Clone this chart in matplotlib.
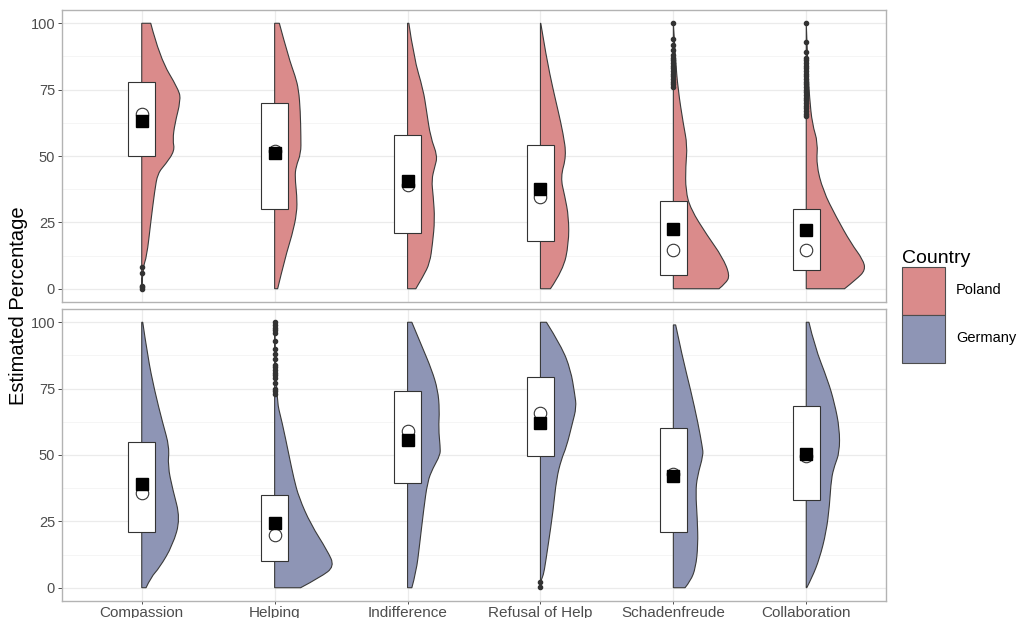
import matplotlib
matplotlib.use("Agg")
import matplotlib.pyplot as plt
from matplotlib.patches import PathPatch, Rectangle, Patch
from matplotlib.path import Path

plt.rcParams['font.family'] = ['Liberation Sans', 'DejaVu Sans']

categories = ["Compassion", "Helping", "Indifference", "Refusal of Help", "Schadenfreude", "Collaboration"]
countries = ["Poland", "Germany"]

# box stats
poland_q1 = [50, 30, 21, 18, 5, 7]
poland_q3 = [78, 70, 58, 54, 33, 30]
poland_mean = [63, 51.3, 40.6, 37.5, 22.4, 22]
poland_median = [66, 52, 39, 34.5, 14.7, 14.7]

germany_q1 = [21, 10, 39.5, 49.5, 21, 33]
germany_q3 = [55, 35, 74, 79.5, 60, 68.5]
germany_mean = [39, 24.5, 55.8, 62, 42, 50.5]
germany_median = [35.5, 19.8, 59, 66, 43, 49.5]

# half violin outlines: y levels and relative density at each level
poland_vy = [
    [0, 8, 12, 25, 37, 43.5, 47, 52, 56, 62, 71, 75, 87, 100],
    [0, 12, 20, 28.5, 35, 42, 46, 51, 57, 67, 75, 80, 87, 100],
    [0, 4.7, 9.7, 17, 26, 35, 41, 46, 50, 57, 67, 75, 87, 100],
    [0, 7, 17, 27, 35, 42, 50, 58.5, 67, 75, 87, 100],
    [0, 2, 5, 12, 20, 30, 37, 46, 54, 62, 75, 87, 100],
    [0, 3.5, 7, 11, 17, 27, 37, 47, 55, 62, 72, 82, 100],
]
poland_vd = [
    [0, 1, 5, 9, 13, 16, 24, 33, 31, 33, 39, 37, 18, 9],
    [3, 10.7, 17.3, 22.3, 22.3, 20.3, 21.3, 26.3, 26.3, 25.7, 24, 20.7, 14, 4.7],
    [8.3, 15.7, 22.3, 25, 27.3, 25.7, 24, 27.3, 30, 23, 19, 15.7, 6.3, 1.3],
    [10, 22.7, 28.3, 28.3, 24.3, 20, 26, 22.7, 17.7, 12.7, 6, 0.3],
    [45.7, 52.3, 56.7, 49, 34, 17.3, 12.3, 12.3, 14, 10, 4.7, 2, 0],
    [38.3, 50, 59.3, 56.7, 45, 30, 16.7, 10, 11.7, 6, 3.3, 1.7, 0],
]
germany_vy = [
    [0, 4, 7.5, 16, 26, 37, 46, 53, 62, 74.5, 87, 100],
    [0, 4, 8, 14, 24, 34, 41, 50, 62, 72, 100],
    [0, 6, 16, 29, 40, 45, 50, 53, 60, 67, 74.5, 82, 91, 100],
    [2, 4, 6, 16, 29, 41, 48.5, 53, 62, 68, 73, 82, 91, 100],
    [0, 2.6, 7.5, 16, 26, 36, 42, 50, 53, 62, 74.5, 87, 99],
    [0, 4, 11, 21, 31, 41, 46, 51, 60, 69.5, 78, 91, 100],
]
germany_vd = [
    [4.3, 9.3, 17.7, 31, 38.7, 31, 26, 27.7, 21, 12.7, 6, 1],
    [26, 46, 60, 52.7, 36, 24.3, 19.3, 14.3, 7.7, 1, 0],
    [4.3, 8.7, 12, 16, 20, 25.3, 32.7, 32.7, 31, 32, 30.3, 24.3, 14.3, 4.3],
    [0, 2, 3.7, 7.7, 12.7, 16, 21, 26, 32, 36, 34.3, 30.3, 21, 6],
    [11.7, 17.3, 22.3, 24.7, 24, 22.3, 24, 30, 29, 24.7, 17.3, 9, 2.3],
    [0.5, 6, 13.3, 20, 23.3, 25, 28.3, 33.3, 33.3, 28.3, 21.7, 8.3, 2.7],
]

# outlier points
poland_out = [
    [0, 0.5, 1, 6, 8],
    [],
    [],
    [],
    [100, 94, 92, 90, 88, 87, 86, 85, 84, 83, 82, 81, 80, 79, 78, 77, 76],
    [100, 93, 89, 87, 86, 85, 84, 83, 82, 81, 80, 79, 78, 77, 76, 75, 74, 73, 72,
     71, 70, 69, 68, 67, 66, 65],
]
germany_out = [
    [],
    [100, 99, 98, 97, 96, 93, 90, 88, 86, 84, 83, 82, 81, 80, 79, 77, 75, 74, 73],
    [],
    [0.4, 2],
    [],
    [],
]

fills = {"Poland": "#da8b8b", "Germany": "#8e95b5"}
dens_scale = 1 / 133.0   # density units -> category units
box_w = 0.2


def half_violin(cx, ys, ds):
    # outline drawn as a quadratic bezier through the read points
    pts = [(cx + d * dens_scale, y) for y, d in zip(ys, ds)]
    verts = [(cx, ys[0]), pts[0]]
    codes = [Path.MOVETO, Path.LINETO]
    for k in range(1, len(pts) - 1):
        mid = ((pts[k][0] + pts[k + 1][0]) / 2, (pts[k][1] + pts[k + 1][1]) / 2)
        if k == len(pts) - 2:
            mid = pts[-1]
        verts += [pts[k], mid]
        codes += [Path.CURVE3, Path.CURVE3]
    verts += [(cx, ys[-1]), (cx, ys[0])]
    codes += [Path.LINETO, Path.CLOSEPOLY]
    return Path(verts, codes)


fig = plt.figure(figsize=(10.21, 6.18), dpi=100)
ax_top = fig.add_axes([62 / 1021, 1 - 302 / 618, 824 / 1021, 292 / 618])
ax_bot = fig.add_axes([62 / 1021, 1 - 601 / 618, 824 / 1021, 292 / 618])

panels = [
    (ax_top, "Poland", poland_q1, poland_q3, poland_mean, poland_median, poland_vy, poland_vd, poland_out),
    (ax_bot, "Germany", germany_q1, germany_q3, germany_mean, germany_median, germany_vy, germany_vd, germany_out),
]

for ax, country, q1, q3, mean, med, vy, vd, outl in panels:
    for i in range(len(categories)):
        cx = i + 1
        ax.add_patch(PathPatch(half_violin(cx, vy[i], vd[i]), facecolor=fills[country],
                               edgecolor="#3a3a3a", linewidth=0.8, zorder=2))
        if outl[i]:
            ax.plot([cx] * len(outl[i]), outl[i], "o", color="#333333",
                    markersize=3, zorder=2.5)
        ax.add_patch(Rectangle((cx - box_w / 2, q1[i]), box_w, q3[i] - q1[i],
                               facecolor="white", edgecolor="#333333",
                               linewidth=0.8, zorder=3))
        ax.plot(cx, med[i], "o", markerfacecolor="white", markeredgecolor="#333333",
                markersize=9, markeredgewidth=0.8, zorder=4)
        ax.plot(cx, mean[i], "s", color="black", markersize=8, zorder=5)

    ax.set_xlim(0.4, 6.6)
    ax.set_ylim(-5, 105)
    ax.set_yticks([0, 25, 50, 75, 100])
    ax.set_yticks([12.5, 37.5, 62.5, 87.5], minor=True)
    ax.set_xticks(range(1, 7))
    ax.grid(True, which="major", color="#ebebeb", linewidth=0.9, zorder=0)
    ax.grid(True, which="minor", axis="y", color="#f4f4f4", linewidth=0.6, zorder=0)
    ax.set_axisbelow(True)
    for s in ax.spines.values():
        s.set_color("#b3b3b3")
        s.set_linewidth(1.0)
    ax.tick_params(axis="both", which="major", length=3, color="#4d4d4d",
                   labelcolor="#4d4d4d", labelsize=10.5, width=0.7, pad=2)
    ax.tick_params(axis="y", which="minor", length=0)

ax_top.tick_params(axis="x", length=0, labelbottom=False)
ax_bot.set_xticklabels(categories, fontsize=11)
ax_bot.tick_params(axis="x", pad=1, length=2.5)

fig.text(18 / 1021, 1 - 306 / 618, "Estimated Percentage", rotation=90,
         ha="center", va="center", fontsize=14.5, color="black")

handles = [Patch(facecolor=fills[c], edgecolor="#4d4d4d", linewidth=0.8) for c in countries]
leg = fig.legend(handles, countries, loc="upper left",
                 bbox_to_anchor=(896 / 1021, 1 - 244 / 618), frameon=False,
                 title="Country", title_fontsize=14, fontsize=10.5,
                 handlelength=2.95, handleheight=4.68, labelspacing=0,
                 handletextpad=0.75, alignment="left", borderaxespad=0)

fig.savefig("out.png", dpi=100)
